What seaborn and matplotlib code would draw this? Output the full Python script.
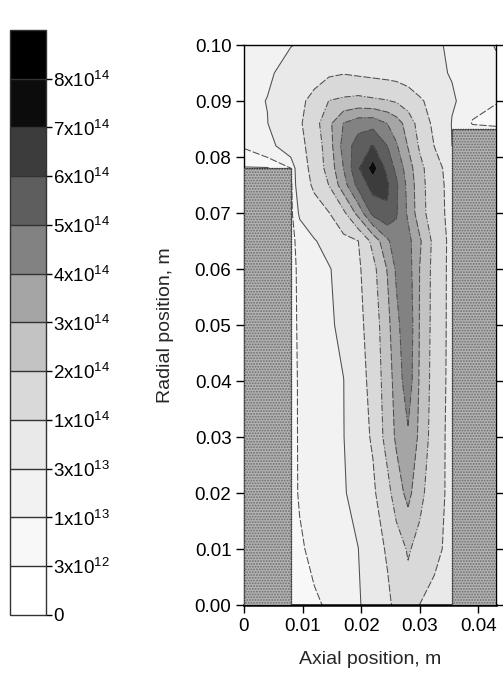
import numpy as np
import matplotlib
matplotlib.use("Agg")
import matplotlib.pyplot as plt
import seaborn as sns
from matplotlib.patches import Rectangle

# ---------------- data ----------------
# axial position (m), columns of the density grid
axial = [0.0, 0.004, 0.008, 0.0095, 0.012, 0.0145, 0.017, 0.0195, 0.022,
         0.0245, 0.026, 0.028, 0.030, 0.0325, 0.0355, 0.039, 0.043]
# radial position (m), rows of the density grid
radial = [0.0, 0.01, 0.02, 0.03, 0.04, 0.05, 0.06, 0.065, 0.07, 0.075,
          0.078, 0.082, 0.086, 0.09, 0.095, 0.10]
# density in units of 1e14 (one row per radial position)
density = [
    [0.04, 0.04, 0.04, 0.055, 0.081, 0.117, 0.19, 0.26, 0.48, 0.86, 1.18, 1.6, 0.99, 0.77, 0.5, 0.5, 0.5],
    [0.04, 0.04, 0.04, 0.08, 0.136, 0.19, 0.243, 0.296, 0.66, 1.09, 1.52, 2.1, 1.7, 1.2, 0.75, 0.75, 0.75],
    [0.05, 0.05, 0.05, 0.114, 0.165, 0.216, 0.267, 0.44, 0.84, 1.68, 2.5, 3.3, 2.29, 1.37, 0.75, 0.75, 0.75],
    [0.05, 0.05, 0.05, 0.116, 0.174, 0.231, 0.289, 0.63, 1.1, 2.42, 3.16, 3.85, 2.79, 1.46, 0.7, 0.7, 0.7],
    [0.05, 0.05, 0.05, 0.117, 0.176, 0.236, 0.295, 0.67, 1.25, 2.56, 3.37, 4.6, 2.87, 1.56, 0.7, 0.7, 0.7],
    [0.05, 0.05, 0.05, 0.125, 0.188, 0.25, 0.38, 0.76, 1.41, 2.71, 3.71, 4.75, 2.93, 1.61, 0.7, 0.7, 0.7],
    [0.05, 0.05, 0.05, 0.132, 0.2, 0.268, 0.49, 0.85, 1.68, 3.07, 4.16, 4.48, 2.98, 1.63, 0.7, 0.7, 0.7],
    [0.05, 0.05, 0.05, 0.157, 0.265, 0.48, 0.74, 0.99, 2.29, 3.81, 4.67, 4.33, 3.14, 1.68, 0.7, 0.7, 0.7],
    [0.05, 0.05, 0.05, 0.34, 0.66, 0.97, 1.79, 3.33, 5.3, 5.9, 5.09, 3.83, 2.41, 1.42, 0.7, 0.7, 0.7],
    [0.05, 0.05, 0.05, 0.51, 1.14, 2.02, 3.57, 5.33, 6.4, 6.13, 5.17, 3.71, 2.38, 1.37, 0.7, 0.7, 0.7],
    [0.025, 0.025, 0.1, 0.52, 1.34, 2.35, 4.02, 5.9, 7.3, 5.65, 4.76, 3.5, 2.28, 1.35, 0.6, 0.6, 0.6],
    [0.11, 0.18, 0.51, 0.76, 1.38, 2.53, 4.36, 5.52, 6.05, 4.98, 4.12, 2.94, 1.86, 0.98, 0.3, 0.3, 0.3],
    [0.15, 0.29, 0.72, 0.88, 1.58, 2.75, 4.03, 4.56, 4.64, 3.97, 3.46, 2.59, 1.57, 0.79, 0.28, 0.09, 0.07],
    [0.2, 0.31, 0.69, 0.83, 1.24, 2.02, 2.17, 2.28, 2.16, 2.05, 1.9, 1.5, 1.1, 0.74, 0.34, 0.15, 0.105],
    [0.15, 0.25, 0.42, 0.51, 0.67, 0.83, 0.95, 0.84, 0.75, 0.66, 0.61, 0.53, 0.46, 0.36, 0.28, 0.22, 0.14],
    [0.12, 0.21, 0.29, 0.32, 0.38, 0.44, 0.51, 0.54, 0.5, 0.46, 0.44, 0.41, 0.37, 0.33, 0.27, 0.18, 0.09],
]
# contour levels (units of 1e14) and their colourbar labels
levels = [0, 0.03, 0.1, 0.3, 1, 2, 3, 4, 5, 6, 7, 8, 9]
level_labels = ["0", "3x10^{12}", "1x10^{13}", "3x10^{13}", "1x10^{14}", "2x10^{14}",
                "3x10^{14}", "4x10^{14}", "5x10^{14}", "6x10^{14}", "7x10^{14}", "8x10^{14}"]
band_colors = ["#ffffff", "#f8f8f8", "#f2f2f2", "#e9e9e9", "#d9d9d9", "#c3c3c3",
               "#a5a5a5", "#828282", "#5e5e5e", "#3c3c3c", "#0c0c0c", "#000000"]
# electrodes: (x0, width, height)
electrodes = [(0.0, 0.008, 0.078), (0.0355, 0.0075, 0.085)]
xticks = [0, 0.01, 0.02, 0.03, 0.04]
xtick_labels = ["0", "0.01", "0.02", "0.03", "0.04"]
yticks = [0.00, 0.01, 0.02, 0.03, 0.04, 0.05, 0.06, 0.07, 0.08, 0.09, 0.10]

# ---------------- figure ----------------
sns.set_theme(style="ticks")
plt.rcParams["font.family"] = ["Liberation Sans", "DejaVu Sans"]
plt.rcParams["hatch.linewidth"] = 0.9

fig = plt.figure(figsize=(5.03, 6.75), dpi=100)
ax = fig.add_axes([0.485, 0.1037, 0.501, 0.8296])

Z = np.array(density)
cf = ax.contourf(axial, radial, Z, levels=levels, colors=band_colors)
line_levels = levels[1:10]
line_styles = ["solid", (0, (7, 2)), "solid", (0, (7, 2)), (0, (6, 2, 1, 2)),
               (0, (7, 2)), (0, (6, 2, 1, 2)), (0, (7, 2)), (0, (6, 2, 1, 2))]
ax.contour(axial, radial, Z, levels=line_levels, colors="#505050",
           linewidths=0.75, linestyles=line_styles)

for x0, w, h in electrodes:
    ax.add_patch(Rectangle((x0, 0), w, h, facecolor="#b4b4b4", edgecolor="#6c6c6c",
                           hatch="......", linewidth=0.8, zorder=3))
    ax.add_patch(Rectangle((x0, 0), w, h, facecolor="none", edgecolor="#333333",
                           linewidth=0.9, linestyle=(0, (1, 1)), zorder=4))

ax.set_xlim(0, 0.043)
ax.set_ylim(0, 0.10)
ax.set_xticks(xticks)
ax.set_xticklabels(xtick_labels)
ax.set_yticks(yticks)
ax.set_yticklabels([f"{v:.2f}" for v in yticks])
ax.tick_params(direction="out", length=6, width=1, labelsize=13.5, right=True,
               top=False, labelright=False, colors="black", pad=3)
for s in ax.spines.values():
    s.set_visible(True)
    s.set_color("black")
    s.set_linewidth(1.0)
ax.spines["bottom"].set_linewidth(1.8)
ax.set_xlabel("Axial position, m", fontsize=14, labelpad=12)
ax.set_ylabel("Radial position, m", fontsize=14, labelpad=15)

cax = fig.add_axes([0.0199, 0.0889, 0.0716, 0.8667])
cb = fig.colorbar(cf, cax=cax, spacing="uniform", ticks=levels[:-1], drawedges=True)
cb.ax.set_yticklabels([r"$\mathregular{" + t + "}$" for t in level_labels])
cb.outline.set_edgecolor("#333333")
cb.outline.set_linewidth(1.0)
cb.dividers.set_color("#333333")
cb.dividers.set_linewidth(1.0)
cb.ax.tick_params(direction="out", length=4, width=1, labelsize=13.5, pad=1,
                  colors="black")

fig.savefig("out.png", dpi=100)
